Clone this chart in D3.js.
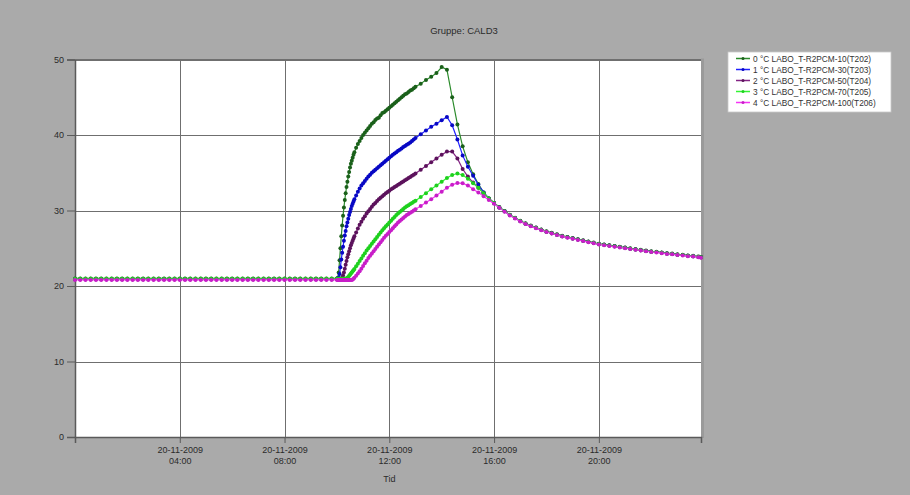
<!DOCTYPE html>
<html>
<head>
<meta charset="utf-8">
<script src="https://cdn.jsdelivr.net/npm/d3@7"></script>
<style>
  html, body { margin: 0; padding: 0; background: #aaaaaa; }
  svg { display: block; font-family: "Liberation Sans", Arial, sans-serif; }
</style>
</head>
<body>
<svg id="chart" width="910" height="495"></svg>
<script>
// ---- labels ----
const chartTitle = "Gruppe: CALD3";
const xAxisTitle = "Tid";
const dayLabel = "20-11-2009";
const xTickLabels = ["04:00", "08:00", "12:00", "16:00", "20:00"];
const yTickValues = [0, 10, 20, 30, 40, 50];
const seriesNames = [
  "0 °C LABO_T-R2PCM-10(T202)",
  "1 °C LABO_T-R2PCM-30(T203)",
  "2 °C LABO_T-R2PCM-50(T204)",
  "3 °C LABO_T-R2PCM-70(T205)",
  "4 °C LABO_T-R2PCM-100(T206)"
];

// ---- sample clock, minutes after midnight ----
// night: every 12 min, heating: every 2 then 4 min, cooling: every 12 min
const nightMinutes = d3.range(0, 601, 12);
const riseMinutes = d3.range(602, 641, 2).concat(d3.range(644, 781, 4));
const coolMinutes = d3.range(792, 1429, 12).concat([1434]);

// ---- T202 ----
const t202Night = [21.0,21.0,21.0,21.0,21.0,21.0,21.0,21.0,21.0,21.0,21.0,21.0,21.0,21.0,21.0,21.0,21.0,
  21.0,21.0,21.0,21.0,21.0,21.0,21.0,21.0,21.0,21.0,21.0,21.0,21.0,21.0,21.0,21.0,21.0,
  21.0,21.0,21.0,21.0,21.0,21.0,21.0,21.0,21.0,21.0,21.0,21.0,21.0,21.0,21.0,21.0,21.0];
const t202Rise = [21.1,21.8,23.4,25.0,26.6,28.0,29.3,30.4,31.4,32.3,33.1,33.8,34.5,35.1,35.7,36.2,36.6,37.0,37.4,37.7,
  38.3,38.8,39.2,39.6,
  40.0,40.3,40.6,40.9,41.2,41.5,41.7,42.0,42.2,42.3,42.6,42.9,43.0,43.2,43.4,
  43.6,43.8,44.0,44.2,44.4,44.6,44.8,45.0,45.2,45.4,45.5,45.7,45.9,46.0,46.2,
  46.4];
const t202Cool = [46.8,47.3,47.7,48.2,49.0,48.65,45.0,41.4,38.5,36.4,34.8,33.5,32.4,31.6,31.0,
  30.45,29.95,29.45,29.05,28.65,28.3,28.0,27.75,27.5,27.25,27.05,26.85,26.65,26.5,26.35,26.2,26.05,25.9,25.75,
  25.6,25.5,25.4,25.3,25.2,25.1,25.0,24.9,24.8,24.7,24.6,24.55,24.45,24.35,24.3,24.2,24.15,24.05,24.0,23.9,
  23.85];

// ---- T203 ----
const t203Night = [20.9,20.9,20.9,20.9,20.9,20.9,20.9,20.9,20.9,20.9,20.9,20.9,20.9,20.9,20.9,20.9,20.9,
  20.9,20.9,20.9,20.9,20.9,20.9,20.9,20.9,20.9,20.9,20.9,20.9,20.9,20.9,20.9,20.9,20.9,
  20.9,20.9,20.9,20.9,20.9,20.9,20.9,20.9,20.9,20.9,20.9,20.9,20.9,20.9,20.9,20.9,20.9];
const t203Rise = [20.9,21.1,21.6,22.5,23.5,24.4,25.2,26.0,26.7,27.3,27.9,28.4,28.9,29.4,29.8,30.2,30.6,30.9,31.2,31.5,
  32.0,32.5,32.9,33.3,
  33.6,33.9,34.2,34.5,34.75,35.0,35.2,35.4,35.6,35.8,36.0,36.2,36.4,36.6,36.8,
  37.0,37.2,37.4,37.55,37.7,37.9,38.05,38.2,38.4,38.55,38.7,38.85,39.0,39.2,39.4,
  39.6];
const t203Cool = [40.1,40.6,41.1,41.5,41.95,42.4,41.3,39.4,37.3,35.8,34.6,33.4,32.4,31.6,31.0,
  30.4,29.9,29.4,29.0,28.6,28.25,27.95,27.7,27.45,27.2,27.0,26.8,26.6,26.45,26.3,26.15,26.0,25.85,25.7,
  25.55,25.45,25.35,25.25,25.15,25.05,24.95,24.85,24.75,24.65,24.55,24.5,24.4,24.3,24.25,24.15,24.1,24.0,23.95,23.85,
  23.8];

// ---- T204 ----
const t204Night = [20.9,20.9,20.9,20.9,20.9,20.9,20.9,20.9,20.9,20.9,20.9,20.9,20.9,20.9,20.9,20.9,20.9,
  20.9,20.9,20.9,20.9,20.9,20.9,20.9,20.9,20.9,20.9,20.9,20.9,20.9,20.9,20.9,20.9,20.9,
  20.9,20.9,20.9,20.9,20.9,20.9,20.9,20.9,20.9,20.9,20.9,20.9,20.9,20.9,20.9,20.9,20.9];
const t204Rise = [20.9,20.9,20.9,20.9,20.95,21.1,21.4,21.8,22.3,22.8,23.3,23.8,24.2,24.6,25.0,25.4,25.7,26.0,26.3,26.6,
  27.1,27.6,28.1,28.5,
  28.9,29.25,29.6,29.9,30.2,30.5,30.8,31.0,31.25,31.5,31.7,31.9,32.1,32.3,32.45,
  32.6,32.8,32.95,33.1,33.25,33.4,33.55,33.7,33.85,34.0,34.15,34.3,34.45,34.6,34.75,
  34.9];
const t204Cool = [35.4,35.9,36.4,36.9,37.4,37.8,37.8,36.9,35.5,34.5,33.7,33.0,32.3,31.6,31.0,
  30.4,29.9,29.4,29.0,28.6,28.25,27.95,27.7,27.45,27.2,27.0,26.8,26.6,26.45,26.3,26.15,26.0,25.85,25.7,
  25.55,25.45,25.35,25.25,25.15,25.05,24.95,24.85,24.75,24.65,24.55,24.5,24.4,24.3,24.25,24.15,24.1,24.0,23.95,23.85,
  23.8];

// ---- T205 ----
const t205Night = [20.95,20.95,20.95,20.95,20.95,20.95,20.95,20.95,20.95,20.95,20.95,20.95,20.95,20.95,20.95,20.95,20.95,
  20.95,20.95,20.95,20.95,20.95,20.95,20.95,20.95,20.95,20.95,20.95,20.95,20.95,20.95,20.95,20.95,20.95,
  20.95,20.95,20.95,20.95,20.95,20.95,20.95,20.95,20.95,20.95,20.95,20.95,20.95,20.95,20.95,20.95,20.95];
const t205Rise = [20.95,20.95,20.95,20.95,20.95,20.95,20.95,20.95,20.95,20.95,21.0,21.1,21.2,21.35,21.5,21.65,21.8,21.95,22.1,22.25,
  22.6,22.95,23.3,23.65,
  24.0,24.35,24.7,25.0,25.3,25.6,25.9,26.2,26.5,26.8,27.1,27.4,27.65,27.9,28.15,
  28.4,28.65,28.9,29.15,29.4,29.6,29.8,30.0,30.2,30.4,30.55,30.7,30.85,31.0,31.15,
  31.3];
const t205Cool = [31.8,32.3,32.8,33.3,33.8,34.3,34.7,34.9,34.7,34.2,33.6,33.0,32.3,31.6,31.0,
  30.4,29.9,29.4,29.0,28.6,28.25,27.95,27.7,27.45,27.2,27.0,26.8,26.6,26.45,26.3,26.15,26.0,25.85,25.7,
  25.55,25.45,25.35,25.25,25.15,25.05,24.95,24.85,24.75,24.65,24.55,24.5,24.4,24.3,24.25,24.15,24.1,24.0,23.95,23.85,
  23.8];

// ---- T206 ----
const t206Night = [20.8,20.8,20.8,20.8,20.8,20.8,20.8,20.8,20.8,20.8,20.8,20.8,20.8,20.8,20.8,20.8,20.8,
  20.8,20.8,20.8,20.8,20.8,20.8,20.8,20.8,20.8,20.8,20.8,20.8,20.8,20.8,20.8,20.8,20.8,
  20.8,20.8,20.8,20.8,20.8,20.8,20.8,20.8,20.8,20.8,20.8,20.8,20.8,20.8,20.8,20.8,20.8];
const t206Rise = [20.8,20.8,20.8,20.8,20.8,20.8,20.8,20.8,20.8,20.8,20.8,20.8,20.8,20.8,20.8,20.8,20.8,20.85,20.95,21.1,
  21.35,21.65,21.95,22.3,
  22.65,23.0,23.35,23.7,24.0,24.3,24.6,24.9,25.2,25.5,25.8,26.1,26.4,26.65,26.9,
  27.15,27.4,27.65,27.9,28.15,28.4,28.6,28.8,29.0,29.2,29.4,29.55,29.7,29.85,30.0,
  30.15];
const t206Cool = [30.6,31.05,31.5,32.0,32.5,33.0,33.4,33.65,33.6,33.3,32.8,32.4,31.9,31.4,30.9,
  30.35,29.85,29.35,28.95,28.55,28.2,27.9,27.65,27.4,27.15,26.95,26.75,26.55,26.4,26.25,26.1,25.95,25.8,25.65,
  25.5,25.4,25.3,25.2,25.1,25.0,24.9,24.8,24.7,24.6,24.5,24.45,24.35,24.25,24.2,24.1,24.05,23.95,23.9,23.8,
  23.75];

// ---- styles ----
const lineColors   = ["#2a8a2a", "#2020ff", "#842484", "#33f533", "#f533f5"];
const markerColors = ["#1a601a", "#0808c4", "#5c125c", "#1ed01e", "#c81ec8"];

const sampleMinutes = nightMinutes.concat(riseMinutes, coolMinutes);
const seriesValues = [
  t202Night.concat(t202Rise, t202Cool),
  t203Night.concat(t203Rise, t203Cool),
  t204Night.concat(t204Rise, t204Cool),
  t205Night.concat(t205Rise, t205Cool),
  t206Night.concat(t206Rise, t206Cool)
];

const day = new Date(2009, 10, 20, 0, 0);
const atMinute = m => new Date(day.getTime() + m * 60000);

const series = seriesNames.map((name, i) => ({
  name,
  line: lineColors[i],
  marker: markerColors[i],
  points: seriesValues[i].map((v, j) => ({ t: atMinute(sampleMinutes[j]), v }))
}));

// ---- layout ----
const W = 910, H = 495;
const plot = { left: 75, right: 701, top: 59.5, bottom: 437 };

const x = d3.scaleTime()
  .domain([day, atMinute(sampleMinutes[sampleMinutes.length - 1])])
  .range([plot.left, plot.right]);
const y = d3.scaleLinear().domain([0, 50]).range([plot.bottom, plot.top]);

const svg = d3.select("#chart");
const textColor = "#2a2a2a";
const gridColor = "#6f6f6f";

svg.append("rect").attr("width", W).attr("height", H).attr("fill", "#aaaaaa");

// plotting area
svg.append("rect")
  .attr("x", plot.left).attr("y", plot.top)
  .attr("width", plot.right - plot.left).attr("height", plot.bottom - plot.top)
  .attr("fill", "#ffffff");

// right edge shading strip
svg.append("rect")
  .attr("x", plot.right).attr("y", plot.top - 1)
  .attr("width", 3).attr("height", plot.bottom - plot.top + 2)
  .attr("fill", "#9a9a9a");

const xTicks = xTickLabels.map(s => {
  const [h, m] = s.split(":").map(Number);
  return atMinute(h * 60 + m);
});

// grid
const grid = svg.append("g").attr("stroke", gridColor).attr("stroke-width", 1).attr("shape-rendering", "crispEdges");
grid.selectAll("line.h").data(yTickValues.filter(v => v > 0)).join("line")
  .attr("class", "h")
  .attr("x1", plot.left).attr("x2", plot.right)
  .attr("y1", d => Math.round(y(d)) + 0.5).attr("y2", d => Math.round(y(d)) + 0.5);
grid.selectAll("line.v").data(xTicks).join("line")
  .attr("class", "v")
  .attr("x1", d => Math.round(x(d)) + 0.5).attr("x2", d => Math.round(x(d)) + 0.5)
  .attr("y1", plot.top).attr("y2", plot.bottom);

// axes
const yAxis = d3.axisLeft(y).tickValues(yTickValues).tickSize(8).tickPadding(3).tickFormat(d3.format("d"));
const gy = svg.append("g").attr("transform", `translate(${plot.left},0)`).call(yAxis);
gy.select(".domain").attr("stroke", "#5a5a5a").attr("stroke-width", 1.5);
gy.selectAll(".tick line").attr("stroke", "#5a5a5a");
gy.selectAll(".tick text").attr("fill", textColor).attr("font-size", 9)
  .attr("font-family", "'Liberation Sans', Arial, sans-serif");

const xAxis = d3.axisBottom(x).tickValues(xTicks).tickSize(6).tickFormat(() => "");
const gx = svg.append("g").attr("transform", `translate(0,${plot.bottom})`).call(xAxis);
gx.select(".domain").attr("stroke", "#5a5a5a").attr("stroke-width", 1.5);
gx.selectAll(".tick line").attr("stroke", "#5a5a5a");
gx.selectAll(".tick").each(function (d, i) {
  const g = d3.select(this);
  g.append("text").attr("y", 16).attr("text-anchor", "middle")
    .attr("fill", textColor).attr("font-size", 9)
    .attr("font-family", "'Liberation Sans', Arial, sans-serif")
    .text(dayLabel);
  g.append("text").attr("y", 27).attr("text-anchor", "middle")
    .attr("fill", textColor).attr("font-size", 9)
    .attr("font-family", "'Liberation Sans', Arial, sans-serif")
    .text(xTickLabels[i]);
});

// top border
svg.append("line")
  .attr("x1", plot.left).attr("x2", plot.right)
  .attr("y1", plot.top).attr("y2", plot.top)
  .attr("stroke", gridColor).attr("stroke-width", 1);

// titles
svg.append("text").attr("x", 464).attr("y", 34)
  .attr("text-anchor", "middle").attr("font-size", 9.5).attr("fill", textColor)
  .text(chartTitle);
svg.append("text").attr("x", x(atMinute(12 * 60))).attr("y", 482)
  .attr("text-anchor", "middle").attr("font-size", 9).attr("fill", textColor)
  .text(xAxisTitle);

// series
const lineGen = d3.line().x(d => x(d.t)).y(d => y(d.v));
const marks = svg.append("g");
series.forEach(s => {
  const g = marks.append("g");
  g.append("path").datum(s.points)
    .attr("fill", "none").attr("stroke", s.line).attr("stroke-width", 1.2)
    .attr("d", lineGen);
  g.selectAll("circle").data(s.points).join("circle")
    .attr("cx", d => x(d.t)).attr("cy", d => y(d.v)).attr("r", 2)
    .attr("fill", s.marker);
});

// legend
const lg = svg.append("g").attr("transform", "translate(728,52)");
lg.append("rect").attr("width", 163).attr("height", 60)
  .attr("fill", "#ffffff").attr("stroke", "#c8c8c8").attr("stroke-width", 0.8);
series.forEach((s, i) => {
  const yy = 6.5 + i * 11;
  lg.append("line").attr("x1", 8).attr("x2", 22).attr("y1", yy).attr("y2", yy)
    .attr("stroke", s.line).attr("stroke-width", 1.5);
  lg.append("circle").attr("cx", 15).attr("cy", yy).attr("r", 1.5).attr("fill", s.marker);
  lg.append("text").attr("x", 25).attr("y", yy + 3)
    .attr("font-size", 8.3).attr("fill", "#333333")
    .text(s.name);
});
</script>
</body>
</html>
